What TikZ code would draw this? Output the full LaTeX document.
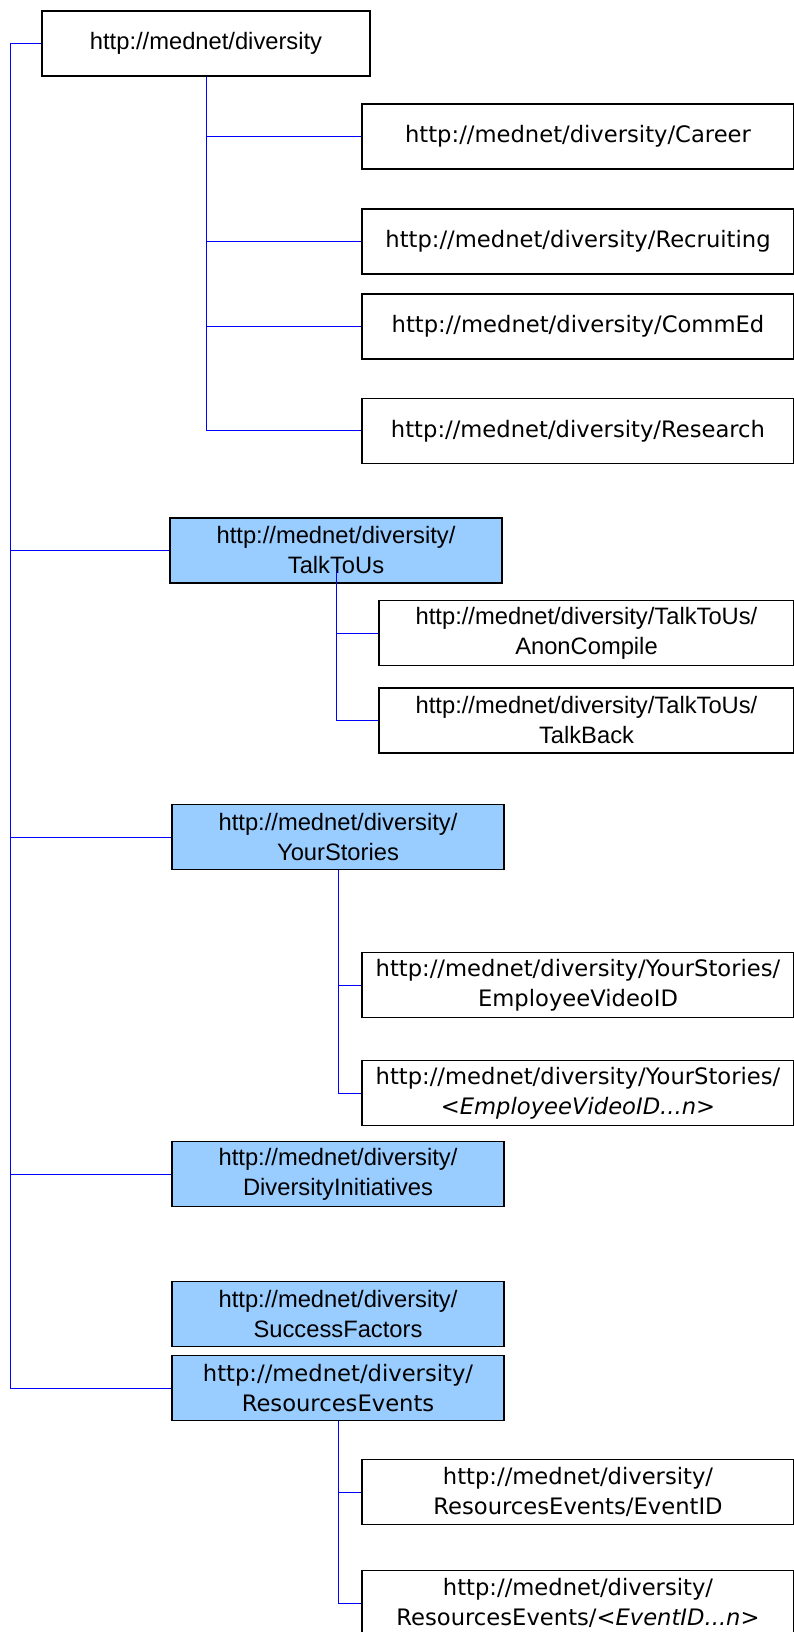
\documentclass[tikz,border=0pt]{standalone}
\usepackage{fontspec}
\newfontfamily\arialfont{Liberation Sans}
\newfontfamily\tahfont{DejaVu Sans}
\usetikzlibrary{calc}
\definecolor{skyblue}{RGB}{153,204,255}
\tikzset{
wire/.style={draw=blue, line width=0.7pt},
pagebox/.style={rectangle, draw=black, line width=1.1pt, fill=white, inner sep=0pt, minimum height=48.75pt, text centered, align=center},
sectbox/.style={pagebox, fill=skyblue, minimum width=249pt},
arial/.style={font=\arialfont\fontsize{17.8}{22.5}\selectfont},
tah/.style={font=\tahfont\fontsize{17}{22.5}\selectfont},
leaf/.style={pagebox, tah, minimum width=324pt},
}

\begin{document}
\begin{tikzpicture}[x=0.75pt, y=-0.75pt]
\useasboundingbox (0,0) rectangle (793,1632);

\node[pagebox, arial, minimum width=246pt] (root) at (206,43.4) {http://mednet/diversity};
\coordinate (trunk) at (10.4,43.4);

\node[leaf] (career) at (578,136.5) {http://mednet/diversity/Career};
\node[leaf] (recruit) at (578,241.5) {http://mednet/diversity/Recruiting};
\node[leaf] (commed) at (578,326.7) {http://mednet/diversity/CommEd};
\node[leaf] (research) at (578,430.8) {http://mednet/diversity/Research};

\node[sectbox, arial] (talk) at (336,550.5) {http://mednet/diversity/\\TalkToUs};
\node[pagebox, arial, minimum width=311.25pt] (anon) at (586.5,633) {http://mednet/diversity/TalkToUs/\\AnonCompile};
\node[pagebox, arial, minimum width=311.25pt] (talkback) at (586.5,720.5) {http://mednet/diversity/TalkToUs/\\TalkBack};

\node[sectbox, arial] (stories) at (338,837) {http://mednet/diversity/\\YourStories};
\node[leaf] (empvid) at (578,985) {http://mednet/diversity/YourStories/\\EmployeeVideoID};
\node[leaf] (empvidn) at (578,1093) {http://mednet/diversity/YourStories/\\<\textit{EmployeeVideoID...n}>};

\node[sectbox, arial] (divinit) at (338,1174) {http://mednet/diversity/\\DiversityInitiatives};
\node[sectbox, arial] (success) at (338,1314) {http://mednet/diversity/\\SuccessFactors};

\node[sectbox, tah] (resev) at (338,1388) {http://mednet/diversity/\\ResourcesEvents};
\node[leaf] (eventid) at (578,1492) {http://mednet/diversity/\\ResourcesEvents/EventID};
\node[leaf] (eventidn) at (578,1603) {http://mednet/diversity/\\ResourcesEvents/<\textit{EventID...n}>};

\draw[wire] (root.west) -- (trunk) |- (resev.west);
\foreach \n in {talk,stories,divinit} \draw[wire] (trunk) |- (\n.west);
\foreach \n in {career,recruit,commed,research} \draw[wire] (root.south) |- (\n.west);
\foreach \n in {anon,talkback} \draw[wire] ($(talk.south)+(0,-13)$) |- (\n.west);
\foreach \n in {empvid,empvidn} \draw[wire] (stories.south) |- (\n.west);
\foreach \n in {eventid,eventidn} \draw[wire] (resev.south) |- (\n.west);

\end{tikzpicture}
\end{document}
